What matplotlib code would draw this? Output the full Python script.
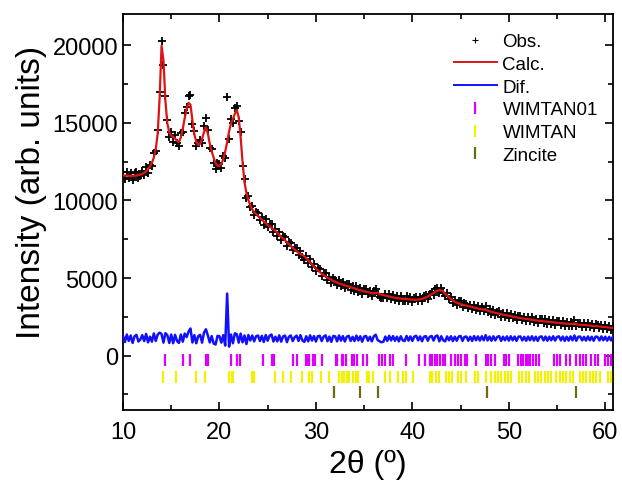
import numpy as np
import matplotlib
matplotlib.use("Agg")
import matplotlib.pyplot as plt
from matplotlib.lines import Line2D
from matplotlib.ticker import MultipleLocator

plt.rcParams['font.family'] = ['Liberation Sans', 'DejaVu Sans']

# 2-theta grid of the scan (degrees)
two_theta = np.round(np.arange(10.0, 60.81, 0.2), 1)

# Calculated profile (Rietveld fit)
calc = [
    11620, 11600, 11590, 11580, 11580, 11580, 11590, 11600, 11620, 11650,
    11700, 11780, 11880, 12000, 12180, 12420, 12750, 13300, 14300, 16600,
    19950, 19000, 16400, 14950, 14380, 14170, 14080, 13980, 13830, 13760,
    14050, 14600, 15300, 15900, 16280, 16150, 15150, 14250, 13780, 13560,
    13650, 13950, 14400, 14700, 14300, 13650, 13150, 12750, 12400, 12240,
    12220, 12350, 12650, 13150, 13750, 14450, 14950, 15250, 15580, 15820,
    15350, 14050, 12450, 11150, 10480, 10020, 9680, 9420, 9250, 9120,
    9000, 8880, 8760, 8640, 8540, 8420, 8320, 8230, 8150, 8030,
    7900, 7780, 7660, 7540, 7420, 7300, 7180, 7060, 6940, 6830,
    6720, 6620, 6540, 6480, 6400, 6280, 6140, 6000, 5860, 5730,
    5610, 5490, 5380, 5280, 5190, 5100, 5020, 4950, 4880, 4820,
    4760, 4710, 4660, 4610, 4570, 4530, 4490, 4450, 4410, 4370,
    4330, 4290, 4250, 4210, 4180, 4150, 4120, 4090, 4060, 4030,
    4010, 4040, 4060, 3960, 3930, 3900, 3870, 3840, 3810, 3780,
    3750, 3730, 3710, 3690, 3670, 3660, 3650, 3640, 3630, 3620,
    3610, 3600, 3600, 3610, 3630, 3660, 3700, 3750, 3810, 3880,
    3960, 4040, 4120, 4180, 4220, 4200, 4120, 4000, 3870, 3750,
    3640, 3550, 3470, 3410, 3360, 3320, 3280, 3250, 3220, 3190,
    3160, 3130, 3100, 3070, 3040, 3010, 2980, 2960, 2990, 2900,
    2860, 2820, 2790, 2760, 2730, 2700, 2670, 2640, 2620, 2590,
    2570, 2540, 2520, 2490, 2470, 2440, 2420, 2400, 2380, 2360,
    2340, 2330, 2310, 2290, 2270, 2260, 2240, 2230, 2210, 2200,
    2190, 2170, 2160, 2150, 2130, 2120, 2110, 2090, 2080, 2070,
    2060, 2050, 2040, 2030, 2080, 2020, 2000, 1990, 1980, 1970,
    1960, 1950, 1940, 1920, 1910, 1900, 1890, 1880, 1860, 1850,
    1840, 1830, 1810, 1800, 1790,
]

# Difference Obs - Calc
dif = [
    180, -220, 260, -150, 200, -280, 150, 240, -190, -60,
    220, -160, 300, -240, 120, -200, 330, -150, 260, 380,
    300, -260, 350, 220, -280, 260, -300, 240, -150, -280,
    260, -200, 320, 100, 450, 650, -250, 220, -300, 150,
    240, -260, 380, 600, 200, -250, 160, -320, -380, 180,
    150, -260, 220, -450, 2900, -520, 260, -300, 340, 280,
    -260, 320, -240, 200, -350, 230, -120, 200, -180, 150,
    200, -160, 180, -220, 230, -140, 190, 260, -190, 120,
    -180, 210, -200, 140, 190, -230, 120, 200, -160, 90,
    190, -150, 220, -120, -210, 150, -180, 210, -130, 160,
    -190, 150, 180, -160, 120, 210, -170, 130, -210, 170,
    140, -180, 200, -130, 160, -190, 120, 180, -150, 110,
    -160, 190, -120, 150, -200, 130, 170, -140, 120, -180,
    150, 250, -100, -170, -240, -200, 130, -150, 180, -120,
    160, -140, 120, -180, 150, -110, -160, 170, -130, 140,
    -150, 130, 180, -120, 140, -170, 120, 160, -140, 110,
    170, -130, 150, 200, -180, 150, -110, -180, 140, -110,
    150, -160, 120, -140, 130, 170, -150, 110, 130, -140,
    120, -150, 160, -110, 140, -130, 150, -110, 220, -120,
    130, -140, 150, -120, 110, 160, -150, 120, -110, 140,
    -130, 150, -110, 130, -150, 120, 140, -120, 110, -140,
    130, -110, 150, -130, 120, -150, 110, 140, -120, 130,
    -140, 120, -110, 150, -130, 110, 140, -120, 130, -150,
    120, -130, 140, -110, 200, -140, 120, 130, -120, 110,
    -130, 140, -110, 120, -140, 130, 110, -120, 140, -110,
    120, -130, 110, -120, 130,
]

# Bragg reflection positions (2-theta) for each phase
wimtan01_pos = [
    14.38, 16.21, 16.97, 18.62, 18.79, 21.21, 21.87, 22.14, 24.49, 25.42,
    25.66, 27.66, 28.0, 28.97, 29.11, 29.32, 29.67, 29.9, 30.6, 32.08,
    32.22, 32.67, 32.84, 33.12, 33.77, 33.98, 34.22, 34.84, 35.3, 36.56,
    36.81, 37.15, 37.67, 38.01, 39.33, 40.71, 41.29, 41.88, 42.08, 42.32,
    42.57, 42.85, 43.13, 43.36, 44.04, 44.38, 44.74, 45.09, 45.43, 45.67,
    46.57, 47.61, 47.85, 48.13, 48.54, 49.47, 49.75, 49.99, 50.96, 51.23,
    51.47, 51.75, 51.99, 52.24, 52.51, 52.79, 53.13, 54.65, 54.99, 55.27,
    55.96, 56.38, 57.0, 57.34, 57.69, 58.03, 58.55, 58.89, 59.23, 59.93,
    60.27, 60.62,
]
wimtan_pos = [
    14.1, 15.52, 17.59, 18.52, 21.04, 21.28, 21.45, 23.35, 23.59, 25.77,
    26.63, 27.39, 28.53, 29.32, 29.56, 30.5, 31.39, 32.42, 32.67, 32.91,
    33.19, 33.45, 33.87, 34.15, 34.39, 35.32, 35.53, 35.88, 37.15, 37.67,
    38.53, 38.99, 39.33, 40.08, 41.81, 42.08, 42.43, 42.78, 43.47, 43.81,
    44.16, 44.74, 45.09, 45.54, 46.47, 46.81, 47.68, 48.2, 48.54, 48.88,
    49.23, 49.58, 49.92, 50.27, 51.06, 51.41, 51.75, 52.09, 52.68, 53.02,
    53.37, 53.72, 54.06, 54.41, 54.93, 55.27, 55.61, 55.96, 56.3, 56.65,
    57.34, 57.69, 58.03, 58.38, 58.72, 59.07, 59.41, 60.27, 60.62,
]
zincite_pos = [31.9, 34.56, 36.4, 47.75, 56.93]

calc = np.array(calc, dtype=float)
dif = np.array(dif, dtype=float)
obs = calc + dif

dif_shift = 1100
row_y = {'WIMTAN01': -250, 'WIMTAN': -1350, 'Zincite': -2350}
colors = {'obs': 'black', 'calc': '#dc1414', 'dif': '#1010ff',
          'WIMTAN01': '#dd00ff', 'WIMTAN': '#f2f200', 'Zincite': '#6b6b10'}

fig = plt.figure(figsize=(6.22, 4.81), dpi=100)
ax = fig.add_axes([0.1977, 0.1455, 0.7878, 0.8233])

ax.plot(two_theta, obs, ls='none', marker='+', ms=6, mew=1.3,
        color=colors['obs'], zorder=2)
ax.plot(two_theta, calc, color=colors['calc'], lw=1.6, zorder=3)
ax.plot(two_theta, dif + dif_shift, color=colors['dif'], lw=1.8, zorder=3)

for name, pos in (('WIMTAN01', wimtan01_pos), ('WIMTAN', wimtan_pos),
                  ('Zincite', zincite_pos)):
    ax.plot(pos, np.full(len(pos), row_y[name]), ls='none', marker='|',
            ms=8, mew=1.6, color=colors[name], zorder=3)

ax.set_xlim(10, 60.8)
ax.set_ylim(-3500, 22000)
ax.xaxis.set_major_locator(MultipleLocator(10))
ax.xaxis.set_minor_locator(MultipleLocator(5))
ax.yaxis.set_major_locator(MultipleLocator(5000))
ax.yaxis.set_minor_locator(MultipleLocator(2500))
ax.tick_params(which='both', direction='in', top=True, right=True,
               width=1.2, labelsize=17)
ax.tick_params(which='major', length=6)
ax.tick_params(which='minor', length=3.5)
ax.tick_params(axis='x', pad=8)
for s in ax.spines.values():
    s.set_linewidth(1.3)

ax.set_xlabel('2θ (º)', fontsize=23, labelpad=4)
ax.set_ylabel('Intensity (arb. units)', fontsize=24)
ax.yaxis.set_label_coords(-0.155, 0.553)

handles = [
    Line2D([], [], ls='none', marker='+', ms=5, mew=0.8, color=colors['obs']),
    Line2D([], [], color=colors['calc'], lw=1.4),
    Line2D([], [], color=colors['dif'], lw=1.4),
    Line2D([], [], ls='none', marker='|', ms=8, mew=1.6, color=colors['WIMTAN01']),
    Line2D([], [], ls='none', marker='|', ms=8, mew=1.6, color=colors['WIMTAN']),
    Line2D([], [], ls='none', marker='|', ms=8, mew=1.6, color=colors['Zincite']),
]
labels = ['Obs.', 'Calc.', 'Dif.', 'WIMTAN01', 'WIMTAN', 'Zincite']
ax.legend(handles, labels, loc='upper left', bbox_to_anchor=(0.675, 0.952),
          frameon=False, fontsize=13.5, handlelength=2.3, handletextpad=0.3,
          labelspacing=0.3, borderaxespad=0, borderpad=0)

fig.savefig('out.png', dpi=100)
